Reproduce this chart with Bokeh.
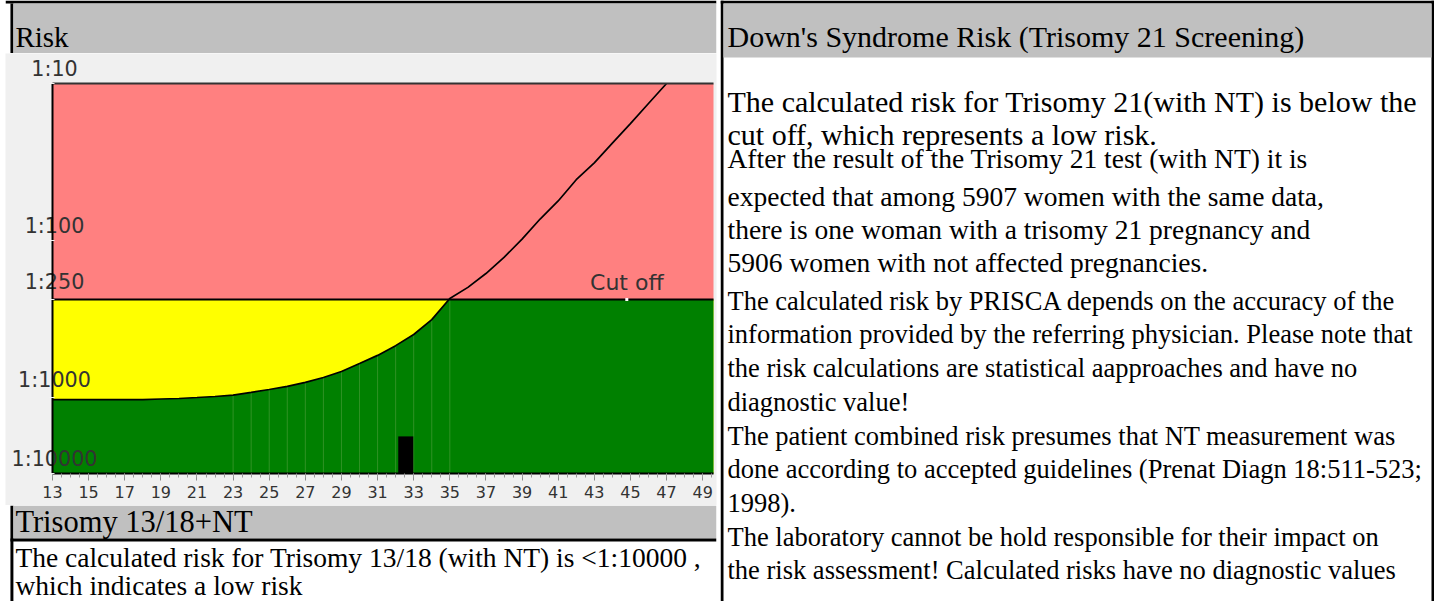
import numpy as np
from bokeh.plotting import figure
from bokeh.models import Range1d, FixedTicker, CustomJSTickFormatter
from bokeh.layouts import row, column
from bokeh.embed import file_html
from bokeh.resources import INLINE
from bokeh.core.properties import value

# ---------------- data ----------------
ages = list(range(13, 48))
age_risk = [1065, 1065, 1065, 1065, 1065, 1065, 1047, 1030, 1000, 986,
            966, 931, 893, 855, 807, 753, 692, 618, 551, 480,
            410, 332, 246, 207, 167, 130, 98, 73, 56, 41,
            32, 24, 18, 13.4, 10]
cutoff_risk = 250
patient_age = 32.56
patient_marker_risk = 3250
patient_risk = 5907
risk_ticks = [10, 100, 250, 1000, 10000]
risk_tick_labels = ["1:10", "1:100", "1:250", "1:1000", "1:10000"]
age_ticks = list(range(13, 50, 2))
age_min, age_max = 13, 49.6
seam_ages = list(range(23, 36))
cutoff_label = "Cut off"
cutoff_label_age = 44.8

left_header = "Risk"
t1318_header = "Trisomy 13/18+NT"
t1318_lines = ["The calculated risk for Trisomy 13/18 (with NT) is  <1:10000 ,",
               "which indicates a low risk"]
right_header = "Down's Syndrome Risk (Trisomy 21 Screening)"
right_title_lines = ["The calculated risk for Trisomy 21(with NT) is below the",
                     "cut off, which represents a low risk."]
right_para1 = ["After the result of the Trisomy 21 test (with NT) it is",
               f"expected that among {patient_risk} women with the same data,",
               "there is one woman with a trisomy 21 pregnancy and",
               f"{patient_risk - 1} women with not affected pregnancies."]
right_para2 = ["The calculated risk by PRISCA depends on the accuracy of the",
               "information provided by the referring physician. Please note that",
               "the risk calculations are statistical aapproaches and have no",
               "diagnostic value!",
               "The patient combined risk presumes that NT measurement was",
               "done according to accepted guidelines (Prenat Diagn 18:511-523;",
               "1998).",
               "The laboratory cannot be hold responsible for their impact on",
               "the risk assessment! Calculated risks have no diagnostic values"]

# ---------------- y-axis scale (risk -> axis position) ----------------
scale_log = [1.0, 2.0, float(np.log10(250)), 3.0, 4.0]
scale_pos = [1.0, 2.0, 2.376, 3.0, 3.484]


def pos(r):
    return np.interp(np.log10(np.asarray(r, dtype=float)), scale_log, scale_pos)


# ---------------- styles ----------------
SERIF = value("Liberation Serif")
SANS = value("DejaVu Sans")
GRAY = "#C0C0C0"
RED = "#FF8080"
YELLOW = "#FFFF00"
GREEN = "#008000"
SEAM = "#2f9224"
INK = "#333333"
BAR_W = 0.83
BASE_FIX = 0.31   # baseline correction (em) for the renderer

LW, RW = 720, 714
HDR_H, CHART_H, BOT_H = 53, 452, 96
TOTAL_H = HDR_H + CHART_H + BOT_H

# reference-pixel geometry of the chart image (for the view ranges)
PX_AGE13, PX_PER_YEAR = 52.0, 18.06
PY_POS1, PY_PER_UNIT = 83.0, 157.0


def x_at(px):
    return 13 + (px - PX_AGE13) / PX_PER_YEAR


def y_at(py):
    return 1 + (py - PY_POS1) / PY_PER_UNIT


def panel(w, h, xr, yr):
    f = figure(width=w, height=h, x_range=Range1d(*xr), y_range=Range1d(yr[1], yr[0]),
               x_axis_type=None, y_axis_type=None, output_backend="svg",
               toolbar_location=None, tools="", min_border=0)
    f.outline_line_color = None
    f.background_fill_color = "white"
    f.border_fill_color = "white"
    return f


def box(f, l, r, t, b, color):
    f.quad(left=l, right=r, top=t, bottom=b, fill_color=color, line_color=None)


def lines(f, x, ys, texts, size, color="black", font=SERIF):
    f.text(x=[x] * len(texts), y=[y - BASE_FIX * size for y in ys], text=texts,
           text_font=font, text_font_size=f"{size}px",
           text_color=color, text_baseline="alphabetic", text_align="left")


# ---------------- left header ----------------
hdr = panel(LW, HDR_H, (0, 720), (0, 53))
box(hdr, 0, 720, 0, 3, "black")
box(hdr, 5, 8, 3, 53, "black")
box(hdr, 8, 720, 3, 53, GRAY)
lines(hdr, 10, [45], [left_header], 29)

# ---------------- chart ----------------
chart = figure(width=LW, height=CHART_H, output_backend="svg", toolbar_location=None, tools="",
               x_range=Range1d(x_at(5), x_at(716)), y_range=Range1d(y_at(505), y_at(53)),
               min_border_left=5, min_border_right=4, min_border_top=0, min_border_bottom=0)
chart.outline_line_color = None
chart.background_fill_color = "#F0F0F0"
chart.border_fill_color = "white"
chart.grid.visible = False

p_top = float(pos(risk_ticks[0]))
p_bot = float(pos(risk_ticks[-1]))
p_cut = float(pos(cutoff_risk))
a = np.array(ages, dtype=float)
pc = pos(age_risk)

chart.quad(left=age_min, right=age_max, top=p_top, bottom=p_cut, fill_color=RED, line_color=None)
chart.quad(left=age_min, right=age_max, top=p_cut, bottom=p_bot, fill_color=YELLOW, line_color=None)

idx = int(np.argmax(pc <= p_cut))
a_cross = a[idx - 1] + (pc[idx - 1] - p_cut) / (pc[idx - 1] - pc[idx]) * (a[idx] - a[idx - 1])
gx = [float(v) for v in a[:idx]] + [float(a_cross), age_max]
gy = [float(v) for v in pc[:idx]] + [p_cut, p_cut]
chart.varea(x=gx, y1=p_bot, y2=gy, fill_color=GREEN)

seam_top = [max(float(pos(age_risk[ages.index(s)])), p_cut) for s in seam_ages]
chart.segment(x0=seam_ages, y0=p_bot, x1=seam_ages, y1=seam_top, line_color=SEAM, line_width=1)

chart.quad(left=patient_age - BAR_W / 2, right=patient_age + BAR_W / 2,
           top=float(pos(patient_marker_risk)), bottom=p_bot, fill_color="black", line_color=None)

chart.line(ages, pc, line_color="black", line_width=1.7)
chart.segment(x0=age_min, x1=age_max, y0=p_cut, y1=p_cut, line_color="black", line_width=2)
chart.segment(x0=age_min, x1=age_max, y0=p_top, y1=p_top, line_color="#333333", line_width=2)

CUT_FS = 22
chart.text(x=[cutoff_label_age], y=[p_cut], text=[cutoff_label], text_align="center",
           text_baseline="alphabetic", y_offset=-10 - BASE_FIX * CUT_FS, text_font=SANS,
           text_font_size=f"{CUT_FS}px", text_color=INK)
chart.scatter(x=[cutoff_label_age], y=[p_cut], marker="square", size=3,
              fill_color="white", line_color=None)

YL_FS = 20.7
ylab_off = [o - BASE_FIX * YL_FS for o in [-8, -8, -11, -11, -8]]
chart.text(x=[age_min] * len(risk_ticks), y=[float(v) for v in pos(risk_ticks)],
           text=risk_tick_labels, text_align="center", text_baseline="alphabetic",
           x_offset=2, y_offset=ylab_off, text_font=SANS, text_font_size=f"{YL_FS}px",
           text_color=INK)

xa = chart.xaxis[0]
xa.fixed_location = p_bot
xa.bounds = (age_min, age_max)
xa.ticker = FixedTicker(ticks=age_ticks,
                        minor_ticks=[float(v) for v in np.arange(age_min, age_max, 0.5)])
xa.axis_line_color = "black"
xa.axis_line_width = 2
xa.major_tick_in = 0
xa.major_tick_out = 7
xa.major_tick_line_color = "#8c8c8c"
xa.minor_tick_in = 0
xa.minor_tick_out = 4
xa.minor_tick_line_color = "#9a9a9a"
xa.major_label_text_font = "DejaVu Sans"
xa.major_label_text_font_size = "16px"
xa.major_label_text_color = INK
xa.major_label_standoff = 6

ya = chart.yaxis[0]
ya.fixed_location = age_min
ya.bounds = (p_top, p_bot)
ya.ticker = FixedTicker(ticks=[float(v) for v in pos(risk_ticks)])
ya.axis_line_color = "black"
ya.axis_line_width = 2
ya.major_tick_in = 2
ya.major_tick_out = 3
ya.major_tick_line_color = "#f4f4f4"
ya.minor_tick_line_color = None
ya.formatter = CustomJSTickFormatter(code="return ''")

# ---------------- bottom-left (Trisomy 13/18) ----------------
bot = panel(LW, BOT_H, (0, 720), (505, 601))
box(bot, 5, 8, 505, 601, "black")
box(bot, 8, 720, 505, 538, GRAY)
box(bot, 5, 720, 538, 541, "black")
lines(bot, 10, [531], [t1318_header], 30.5)
lines(bot, 10, [566, 594], t1318_lines, 27.5)

# ---------------- right column ----------------
rf = panel(RW, TOTAL_H, (720, 1434), (0, 601))
box(rf, 720, 1434, 0, 3, "black")
box(rf, 720, 723, 0, 601, "black")
box(rf, 1431, 1434, 0, 601, "black")
box(rf, 723, 1431, 3, 57, GRAY)
lines(rf, 727, [45], [right_header], 30)
lines(rf, 727, [110, 143], right_title_lines, 30)
lines(rf, 727, [167, 205, 238, 271], right_para1, 27.5)
lines(rf, 727, [308.5 + 33.7 * k for k in range(len(right_para2))], right_para2, 26.5)

layout = row(column(hdr, chart, bot), rf)
open("out.html", "w").write(file_html(layout, INLINE))
